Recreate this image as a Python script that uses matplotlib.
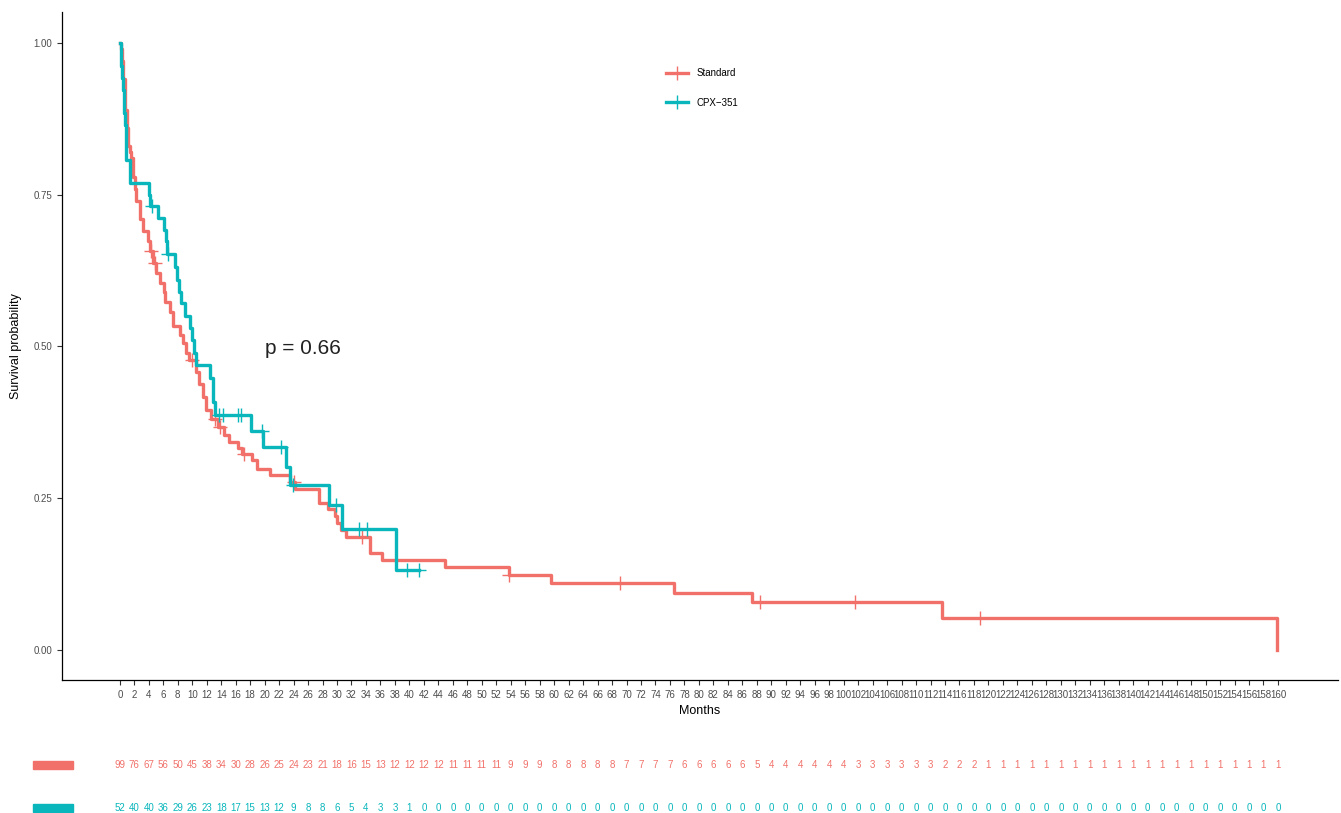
import matplotlib.pyplot as plt
import matplotlib.transforms as mtransforms
import numpy as np
from matplotlib.lines import Line2D
from matplotlib.patches import Rectangle

# Kaplan-Meier steps (time in months, survival after the step)
std_time = [0, 0.15, 0.3, 0.5, 0.75, 0.95, 1.1, 1.35, 1.55, 1.8, 2.05, 2.2, 2.75,
            3.15, 3.9, 4.1, 4.6, 5.0, 5.6, 6.1, 6.3, 6.9, 7.3, 8.3, 8.7, 9.2, 9.6,
            10.5, 11.0, 11.5, 11.9, 12.6, 13.6, 14.4, 15.1, 16.3, 16.9, 18.2, 19.0,
            20.8, 23.5, 24.2, 27.5, 28.8, 29.7, 29.95, 30.5, 31.3, 34.5, 36.2, 44.9,
            53.7, 59.5, 76.5, 87.3, 113.6, 159.9]
std_surv = [1.0, 0.99, 0.97, 0.94, 0.89, 0.86, 0.83, 0.82, 0.81, 0.78, 0.76, 0.74, 0.71,
            0.69, 0.673, 0.657, 0.637, 0.621, 0.604, 0.59, 0.574, 0.557, 0.533, 0.519,
            0.505, 0.489, 0.478, 0.458, 0.439, 0.417, 0.395, 0.38, 0.368, 0.354, 0.343,
            0.333, 0.323, 0.313, 0.299, 0.288, 0.277, 0.266, 0.243, 0.233, 0.221, 0.209,
            0.197, 0.186, 0.16, 0.148, 0.136, 0.124, 0.11, 0.094, 0.079, 0.052, 0.0]
std_censor = [4.25, 4.85, 10.0, 13.1, 13.9, 17.2, 24.0, 33.5, 53.8, 69.1, 88.4, 101.6, 118.8]

cpx_time = [0, 0.1, 0.2, 0.25, 0.45, 0.55, 0.6, 0.75, 0.8, 0.85, 0.9, 1.35, 1.4, 4.05,
            4.2, 5.3, 6.1, 6.4, 6.55, 7.6, 7.9, 8.15, 8.4, 9.0, 9.7, 9.9, 10.2, 10.5,
            12.5, 12.8, 13.1, 18.1, 19.8, 23.0, 23.5, 28.9, 30.7, 38.2, 41.3]
cpx_surv = [1.0, 0.981, 0.962, 0.942, 0.923, 0.904, 0.885, 0.865, 0.846, 0.827, 0.808,
            0.788, 0.769, 0.75, 0.731, 0.711, 0.692, 0.673, 0.653, 0.631, 0.61, 0.59,
            0.571, 0.55, 0.53, 0.511, 0.489, 0.47, 0.448, 0.409, 0.387, 0.36, 0.334,
            0.302, 0.272, 0.239, 0.199, 0.132, 0.132]
cpx_censor = [4.4, 6.7, 13.7, 14.3, 16.3, 16.8, 19.6, 22.2, 23.9, 29.9, 33.0, 34.2, 39.7, 41.3]

# number at risk table
risk_months = list(range(0, 161, 2))
std_risk = [99, 76, 67, 56, 50, 45, 38, 34, 30, 28, 26, 25, 24, 23, 21, 18, 16, 15, 13, 12,
            12, 12, 12, 11, 11, 11, 11, 9, 9, 9, 8, 8, 8, 8, 8, 7, 7, 7, 7, 6,
            6, 6, 6, 6, 5, 4, 4, 4, 4, 4, 4, 3, 3, 3, 3, 3, 3, 2, 2, 2,
            1, 1, 1, 1, 1, 1, 1, 1, 1, 1, 1, 1, 1, 1, 1, 1, 1, 1, 1, 1, 1]
cpx_risk = [52, 40, 40, 36, 29, 26, 23, 18, 17, 15, 13, 12, 9, 8, 8, 6, 5, 4, 3, 3,
            1, 0, 0, 0, 0, 0, 0, 0, 0, 0, 0, 0, 0, 0, 0, 0, 0, 0, 0, 0,
            0, 0, 0, 0, 0, 0, 0, 0, 0, 0, 0, 0, 0, 0, 0, 0, 0, 0, 0, 0,
            0, 0, 0, 0, 0, 0, 0, 0, 0, 0, 0, 0, 0, 0, 0, 0, 0, 0, 0, 0, 0]

labels = ["Standard", "CPX\u2212351"]
colors = ["#F1716A", "#08B6BB"]

plt.rcParams["font.family"] = ["Liberation Sans", "DejaVu Sans"]

fig = plt.figure(figsize=(13.41, 8.13), dpi=100)
ax = fig.add_axes([0.0462, 0.1636, 0.9516, 0.8216])


def draw_km(t, s, cens, color):
    ax.step(t, s, where="post", color=color, lw=2.4)
    idx = np.searchsorted(t, cens, side="right") - 1
    ax.plot(cens, np.asarray(s)[idx], ls="none", marker="+", ms=10, mew=1.0, color=color)


draw_km(std_time, std_surv, std_censor, colors[0])
draw_km(cpx_time, cpx_surv, cpx_censor, colors[1])

ax.text(20, 0.497, "p = 0.66", fontsize=15, ha="left", va="center", color="#222222")

ax.set_xlim(-8, 168.3)
ax.set_ylim(-0.0494, 1.051)
ax.set_xticks(risk_months)
ax.set_yticks([0, 0.25, 0.5, 0.75, 1.0])
ax.set_yticklabels(["0.00", "0.25", "0.50", "0.75", "1.00"])
ax.tick_params(labelsize=7, labelcolor="#4D4D4D", color="#333333", length=3.5, width=0.8)
for side in ["top", "right"]:
    ax.spines[side].set_visible(False)
for side in ["left", "bottom"]:
    ax.spines[side].set_linewidth(0.9)
ax.set_xlabel("Months", fontsize=9, labelpad=4)
ax.set_ylabel("Survival probability", fontsize=9, labelpad=8)

handles = [Line2D([], [], color=c, lw=2.4, marker="+", ms=10, mew=1.0) for c in colors]
ax.legend(handles, labels, loc="center left", bbox_to_anchor=(0.497, 0.892),
          bbox_transform=fig.transFigure, frameon=False, fontsize=7,
          handlelength=2.2, labelspacing=2.0, borderpad=0, borderaxespad=0,
          handletextpad=0.9)

# risk table under the plot
trans = mtransforms.blended_transform_factory(ax.transData, fig.transFigure)
row_y = [1 - 765 / 813, 1 - 808 / 813]
for risk, y, c in zip([std_risk, cpx_risk], row_y, colors):
    for m, n in zip(risk_months, risk):
        fig.text(m, y, str(n), transform=trans, fontsize=7, color=c, ha="center", va="center")
    fig.patches.append(Rectangle((33 / 1341, y - 4 / 813), 40 / 1341, 8 / 813,
                                 transform=fig.transFigure, color=c))

fig.savefig("out.png", dpi=100)
